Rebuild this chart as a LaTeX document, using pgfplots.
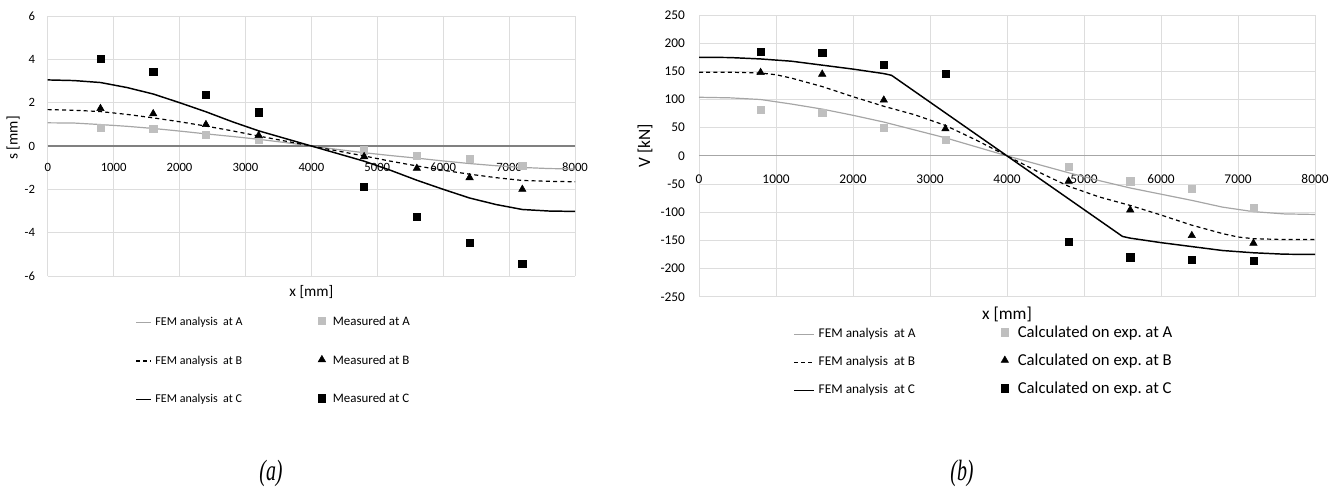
\documentclass[border=0pt]{standalone}
\usepackage{fontspec}
\setmainfont{Carlito}
\newfontfamily\capfont{Liberation Serif}
\usepackage{pgfplots}
\pgfplotsset{compat=1.18}

\definecolor{gridgray}{HTML}{DDDDDD}
\definecolor{zeroL}{HTML}{808080}
\definecolor{zeroR}{HTML}{A6A6A6}
\definecolor{lineA}{HTML}{A6A6A6}
\definecolor{markA}{HTML}{BFBFBF}

\pgfplotsset{
  beamstyle/.style={
    scale only axis,
    xmin=0, xmax=8000,
    xtick={0,1000,...,8000},
    grid=major,
    grid style={draw=gridgray, line width=0.6pt},
    axis line style={draw=none},
    major tick length=0pt,
    scaled x ticks=false,
    /pgf/number format/1000 sep={},
    /pgf/number format/assume math mode=true,
    clip=false,
    legend columns=3,
    transpose legend,
    legend cell align=left,
  },
  lineimgL/.style={legend image code/.code={\draw[##1] (0pt,0pt) -- (11.5pt,0pt);}},
  lineimgR/.style={legend image code/.code={\draw[##1] (0pt,0pt) -- (15pt,0pt);}},
  markimgL/.style={legend image code/.code={\path[draw=none, fill=none] (0pt,0pt) rectangle (8.75pt,0.1pt); \draw[##1] plot coordinates {(3pt,1pt)};}},
  markimgR/.style={legend image code/.code={\path[draw=none, fill=none] (0pt,0pt) rectangle (9.75pt,0.1pt); \draw[##1] plot coordinates {(3pt,1.5pt)};}},
  femA/.style={lineA, line width=0.9pt, no marks},
  femB/.style={black, line width=0.9pt, dash pattern=on 3pt off 2.4pt, no marks},
  femC/.style={black, line width=1.1pt, no marks},
  expA/.style={only marks, mark=square*, mark size=2.7pt, mark options={draw=markA, fill=markA}},
  expB/.style={only marks, mark=triangle*, mark size=3.2pt, mark options={draw=black, fill=black}},
  expC/.style={only marks, mark=square*, mark size=2.7pt, mark options={draw=black, fill=black}},
}

\begin{document}
\begin{tikzpicture}
\path[use as bounding box] (0pt,0pt) rectangle (1006.5pt,-366.75pt);

% (a) displacements s along the beam
\begin{axis}[
  beamstyle,
  at={(35.8pt,-12pt)}, anchor=north west,
  width=395.5pt, height=195pt,
  ymin=-6, ymax=6, ytick={-6,-4,...,6},
  extra y ticks={0}, extra y tick labels={},
  extra y tick style={grid style={draw=zeroL, line width=0.8pt}},
  ticklabel style={font=\fontsize{9.5}{11}\selectfont},
  xticklabel style={anchor=center, yshift=81.4pt},
  yticklabel style={anchor=east, xshift=-6pt},
  xlabel={x [mm]}, ylabel={s [mm]},
  label style={font=\fontsize{11.5}{13}\selectfont},
  xlabel style={at={(axis description cs:0.5,-0.0615)}, anchor=center},
  ylabel style={at={(axis description cs:-0.0658,0.531)}, anchor=center},
  legend style={draw=none, fill=none, inner sep=0pt,
    at={(axis description cs:0.1656,-0.154)}, anchor=north west,
    nodes={inner xsep=2.5pt, inner ysep=0pt, text height=7pt, text depth=2pt},
    row sep=20pt,
    /tikz/every even column/.append style={column sep=54pt}},
  lineimgL,
]
\addplot[femA] coordinates {(0,1.07) (400,1.06) (800,0.99) (1200,0.91) (1600,0.81) (2000,0.69) (2400,0.56) (2800,0.44) (3200,0.31) (3600,0.16) (4000,0) (4400,-0.16) (4800,-0.31) (5200,-0.44) (5600,-0.56) (6000,-0.69) (6400,-0.81) (6800,-0.91) (7200,-0.99) (7600,-1.04) (8000,-1.06)};
\addlegendentry{\fontsize{9}{10}\selectfont FEM analysis\ \ at A}
\addplot[femB] coordinates {(0,1.68) (400,1.65) (800,1.59) (1200,1.46) (1600,1.30) (2000,1.12) (2400,0.92) (2800,0.70) (3200,0.46) (3600,0.23) (4000,0) (4400,-0.23) (4800,-0.46) (5200,-0.70) (5600,-0.92) (6000,-1.12) (6400,-1.30) (6800,-1.46) (7200,-1.59) (7600,-1.63) (8000,-1.65)};
\addlegendentry{\fontsize{9}{10}\selectfont FEM analysis\ \ at B}
\addplot[femC] coordinates {(0,3.05) (400,3.02) (800,2.93) (1200,2.70) (1600,2.40) (2000,2.00) (2400,1.58) (2800,1.12) (3200,0.70) (3600,0.35) (4000,0) (4400,-0.35) (4800,-0.70) (5200,-1.12) (5600,-1.58) (6000,-2.00) (6400,-2.40) (6800,-2.70) (7200,-2.93) (7600,-3.00) (8000,-3.02)};
\addlegendentry{\fontsize{9}{10}\selectfont FEM analysis\ \ at C}
\addplot[expA, markimgL] coordinates {(800,0.84) (1600,0.80) (2400,0.53) (3200,0.27) (4800,-0.20) (5600,-0.46) (6400,-0.60) (7200,-0.91)};
\addlegendentry{\fontsize{9.7}{11}\selectfont Measured at A}
\addplot[expB, markimgL] coordinates {(800,1.73) (1600,1.49) (2400,0.99) (3200,0.49) (4800,-0.49) (5600,-1.03) (6400,-1.46) (7200,-2.00)};
\addlegendentry{\fontsize{9.7}{11}\selectfont Measured at B}
\addplot[expC, markimgL] coordinates {(800,4.02) (1600,3.44) (2400,2.37) (3200,1.56) (4800,-1.88) (5600,-3.28) (6400,-4.48) (7200,-5.45)};
\addlegendentry{\fontsize{9.7}{11}\selectfont Measured at C}
\end{axis}

% (b) shear forces V along the beam
\begin{axis}[
  beamstyle,
  at={(524.25pt,-11.25pt)}, anchor=north west,
  width=462pt, height=211.3pt,
  ymin=-250, ymax=250, ytick={-250,-200,...,250},
  extra y ticks={0}, extra y tick labels={},
  extra y tick style={grid style={draw=zeroR, line width=0.8pt}},
  ticklabel style={font=\fontsize{10}{12}\selectfont},
  xticklabel style={anchor=center, yshift=88.3pt},
  yticklabel style={anchor=east, xshift=-7pt},
  xlabel={x [mm]}, ylabel={V [kN]},
  label style={font=\fontsize{13}{15}\selectfont},
  xlabel style={at={(axis description cs:0.5,-0.0614)}, anchor=center},
  ylabel style={at={(axis description cs:-0.0877,0.535)}, anchor=center},
  legend style={draw=none, fill=none, inner sep=0pt,
    at={(axis description cs:0.1526,-0.1076)}, anchor=north west,
    nodes={inner xsep=3pt, inner ysep=0pt, text height=8pt, text depth=2.5pt},
    row sep=10.5pt,
    /tikz/every even column/.append style={column sep=61pt}},
  lineimgR,
]
\addplot[femA] coordinates {(0,104) (400,103) (800,100) (1200,92) (1600,83) (2000,72) (2400,60) (2800,46) (3200,32) (3600,16) (4000,0) (4400,-15) (4800,-30) (5200,-44) (5600,-57) (6000,-68) (6400,-79) (6800,-91) (7200,-99) (7600,-103) (8000,-104)};
\addlegendentry{\fontsize{10}{12}\selectfont FEM analysis\ \ at A}
\addplot[femB] coordinates {(0,148.5) (400,148.5) (800,147) (1000,144) (1200,138) (1600,123) (2000,105) (2400,88) (2800,73) (3200,54) (3600,28) (4000,0) (4400,-28) (4800,-54) (5200,-73) (5600,-88) (6000,-105) (6400,-123) (6800,-138) (7000,-144) (7200,-147) (7600,-148.5) (8000,-148.5)};
\addlegendentry{\fontsize{10}{12}\selectfont FEM analysis\ \ at B}
\addplot[femC] coordinates {(0,175) (400,174.5) (800,172) (1200,168) (1600,161) (2000,154) (2400,146) (2500,143) (4000,0) (5500,-143) (5600,-146) (6000,-154) (6400,-161) (6800,-168) (7200,-172) (7600,-174.5) (8000,-175)};
\addlegendentry{\fontsize{10}{12}\selectfont FEM analysis\ \ at C}
\addplot[expA, markimgR] coordinates {(800,82.5) (1600,76.7) (2400,49.5) (3200,28.3) (4800,-20) (5600,-45) (6400,-59) (7200,-92)};
\addlegendentry{\fontsize{12.5}{14}\selectfont Calculated on exp.\ at A}
\addplot[expB, markimgR] coordinates {(800,148) (1600,145) (2400,99) (3200,48) (4800,-45) (5600,-96) (6400,-141.5) (7200,-155)};
\addlegendentry{\fontsize{12.5}{14}\selectfont Calculated on exp.\ at B}
\addplot[expC, markimgR] coordinates {(800,184.6) (1600,182.8) (2400,162) (3200,146) (4800,-152.7) (5600,-179.8) (6400,-184.6) (7200,-185.7)};
\addlegendentry{\fontsize{12.5}{14}\selectfont Calculated on exp.\ at C}
\end{axis}

% panel captions
\node[xscale=0.68, font=\capfont\itshape\fontsize{22}{24}\selectfont] at (203.25pt,-355pt) {(a)};
\node[xscale=0.68, font=\capfont\itshape\fontsize{22}{24}\selectfont] at (721.5pt,-355pt) {(b)};
\end{tikzpicture}
\end{document}
